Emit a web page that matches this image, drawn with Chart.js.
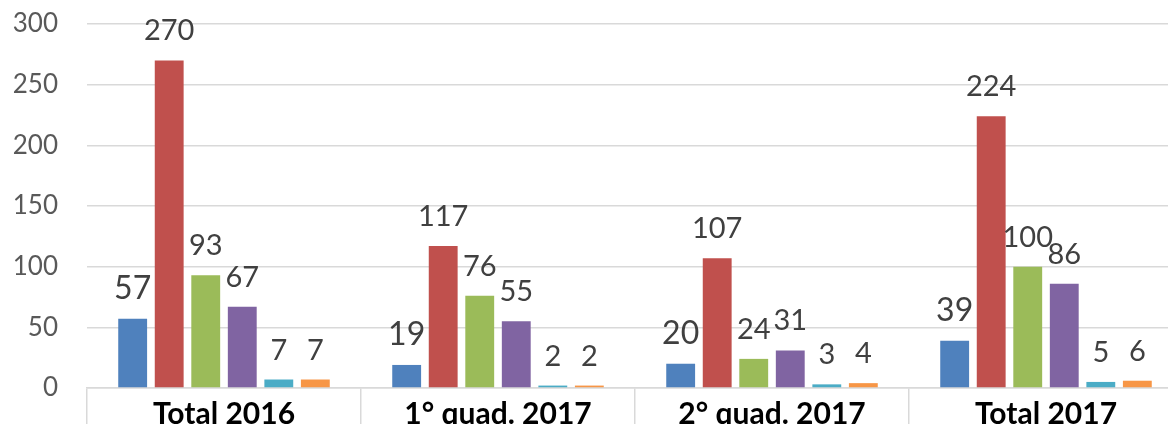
<!DOCTYPE html>
<html>
<head>
<meta charset="utf-8">
<script src="https://cdn.jsdelivr.net/npm/chart.js@4"></script>
<style>
  html, body { margin: 0; padding: 0; background: #fff; overflow: hidden; }
  #wrap { width: 1183px; height: 424px; }
</style>
</head>
<body>
<div id="wrap"><canvas id="barChart"></canvas></div>
<script>
// Data
const categories = ['Total 2016', '1° quad. 2017', '2° quad. 2017', 'Total 2017'];
const serieA = [57, 19, 20, 39];
const serieB = [270, 117, 107, 224];
const serieC = [93, 76, 24, 100];
const serieD = [67, 55, 31, 86];
const serieE = [7, 2, 3, 5];
const serieF = [7, 2, 4, 6];
const yTicks = [0, 50, 100, 150, 200, 250, 300];

const colors = ['#4f81bd', '#c0504d', '#9bbb59', '#8064a2', '#4bacc6', '#f79646'];
const labelSizes = [32, 29, 29, 29, 29, 29];

// simple value labels above each bar
const valueLabels = {
  id: 'valueLabels',
  afterDatasetsDraw(chart) {
    const ctx = chart.ctx;
    ctx.save();
    ctx.fillStyle = '#404040';
    ctx.textAlign = 'center';
    ctx.textBaseline = 'alphabetic';
    chart.data.datasets.forEach((ds, i) => {
      const meta = chart.getDatasetMeta(i);
      ctx.font = labelSizes[i] + 'px Lato';
      meta.data.forEach((bar, j) => {
        ctx.fillText(ds.data[j], bar.x, bar.y - 20);
      });
    });
    ctx.restore();
  }
};

const ctx = document.getElementById('barChart').getContext('2d');
const barChart = new Chart(ctx, {
  type: 'bar',
  data: {
    labels: categories,
    datasets: [serieA, serieB, serieC, serieD, serieE, serieF].map((d, i) => ({
      data: d,
      backgroundColor: colors[i],
      barPercentage: 0.79,
      categoryPercentage: 0.8
    }))
  },
  plugins: [valueLabels],
  options: {
    responsive: true,
    maintainAspectRatio: false,
    animation: false,
    layout: { padding: { top: 24, left: 0, right: 0, bottom: 0 } },
    plugins: {
      legend: { display: false },
      tooltip: { enabled: false }
    },
    scales: {
      x: {
        afterFit(scale) {
          scale.height = 36;
          scale.paddingLeft = 0;
          scale.paddingRight = 0;
        },
        grid: {
          offset: true,
          drawOnChartArea: false,
          drawTicks: true,
          tickLength: 40,
          color: '#d9d9d9',
          lineWidth: 1.5
        },
        border: { color: '#d9d9d9', width: 1.5 },
        ticks: {
          padding: -32,
          color: '#000',
          maxRotation: 0,
          font: { family: 'Lato', size: 30, weight: 'bold' }
        }
      },
      y: {
        min: 0,
        max: 300,
        afterFit(scale) {
          scale.width = 87;
          scale.paddingTop = 0;
          scale.paddingBottom = 0;
        },
        afterBuildTicks(scale) { scale.ticks = yTicks.map(v => ({ value: v })); },
        grid: { color: '#d9d9d9', lineWidth: 1.5, drawTicks: false },
        border: { display: false },
        ticks: {
          padding: 29,
          color: '#595959',
          font: { family: 'Lato', size: 26 }
        }
      }
    }
  }
});
</script>
</body>
</html>
